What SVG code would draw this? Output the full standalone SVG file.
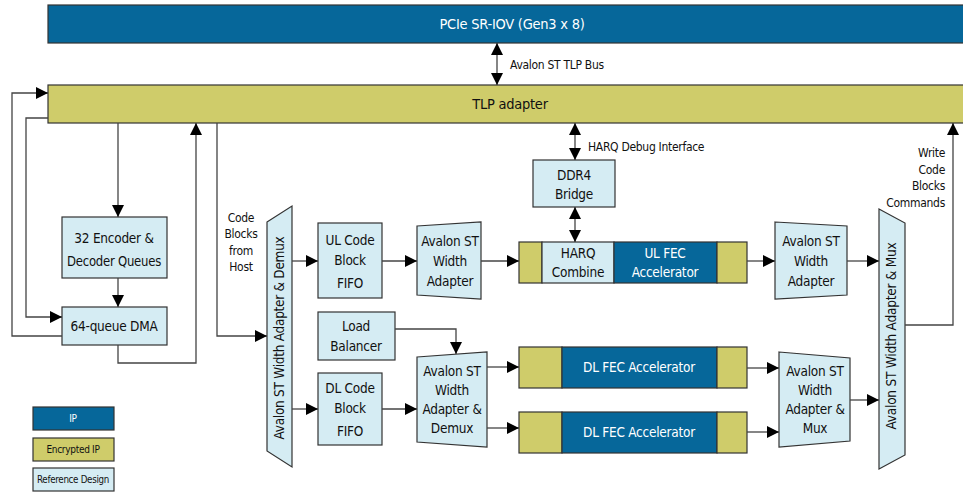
<svg xmlns="http://www.w3.org/2000/svg" width="963" height="492" viewBox="0 0 963 492">
<defs>
<marker id="ah" markerUnits="userSpaceOnUse" markerWidth="12" markerHeight="12" refX="12" refY="6" orient="auto-start-reverse">
<path d="M0,0 L12,6 L0,12 z" fill="#000"/>
</marker>
<style>
text{font-family:"Liberation Sans Narrow","DejaVu Sans Condensed","Liberation Sans",sans-serif;fill:#111;text-anchor:middle}
.t{font-size:13.5px;letter-spacing:-0.25px}
.s{font-size:12px;letter-spacing:-0.3px}
.l{font-size:10px;letter-spacing:-0.3px}
.w{fill:#fff}
.ip{fill:#06679a;stroke:#333;stroke-width:1.2}
.enc{fill:#cfcc6a;stroke:#333;stroke-width:1.2}
.ref{fill:#d5ecf3;stroke:#333;stroke-width:1.2}
.c{fill:none;stroke:#444;stroke-width:1.3}
.a{marker-end:url(#ah)}
.d{marker-start:url(#ah);marker-end:url(#ah)}
</style>
</defs>
<rect width="963" height="492" fill="#fff"/>

<g id="pcie">
<rect class="ip" x="48" y="5" width="920" height="38"/>
<text class="t w" x="512" y="29" style="font-size:14.5px">PCIe SR-IOV (Gen3 x 8)</text>
</g>
<g id="tlp">
<rect class="enc" x="48" y="85" width="920" height="38"/>
<text class="t" x="510" y="109" style="font-size:14.5px">TLP adapter</text>
</g>
<g id="queues">
<rect class="ref" x="62" y="217" width="105" height="61"/>
<text class="t" x="114" y="243">32 Encoder &amp;</text>
<text class="t" x="114" y="266" textLength="94" lengthAdjust="spacingAndGlyphs">Decoder Queues</text>
</g>
<g id="dma">
<rect class="ref" x="62" y="307" width="105" height="38"/>
<text class="t" x="114" y="331">64-queue DMA</text>
</g>
<g id="demux">
<polygon class="ref" points="267,222 292,206 292,467 267,451"/>
<text class="t" transform="translate(284,338) rotate(-90)" textLength="203" lengthAdjust="spacingAndGlyphs">Avalon ST Width Adapter &amp; Demux</text>
</g>
<g id="ulfifo">
<rect class="ref" x="318" y="223" width="64" height="75"/>
<text class="t" x="350" y="245">UL Code</text>
<text class="t" x="350" y="265">Block</text>
<text class="t" x="350" y="288">FIFO</text>
</g>
<g id="uladapter">
<polygon class="ref" points="417,226 481,222 481,299 417,295"/>
<text class="t" x="450" y="246">Avalon ST</text>
<text class="t" x="450" y="266">Width</text>
<text class="t" x="450" y="286">Adapter</text>
</g>
<g id="ddr4">
<rect class="ref" x="533" y="160" width="82" height="47"/>
<text class="t" x="574" y="180">DDR4</text>
<text class="t" x="574" y="199">Bridge</text>
</g>
<g id="ulfec">
<rect class="enc" x="519" y="242" width="23" height="41"/>
<rect class="ref" x="542" y="242" width="72" height="41"/>
<rect class="ip" x="614" y="242" width="103" height="41"/>
<rect class="enc" x="717" y="242" width="30" height="41"/>
<text class="t" x="578" y="258">HARQ</text>
<text class="t" x="578" y="277">Combine</text>
<text class="t w" x="665" y="258">UL FEC</text>
<text class="t w" x="665" y="277">Accelerator</text>
</g>
<g id="uladapter2">
<polygon class="ref" points="775,222 847,226 847,295 775,299"/>
<text class="t" x="811" y="246">Avalon ST</text>
<text class="t" x="811" y="266">Width</text>
<text class="t" x="811" y="286">Adapter</text>
</g>
<g id="mux">
<polygon class="ref" points="879,209 905,223 905,455 879,469"/>
<text class="t" transform="translate(896,336) rotate(-90)" textLength="187" lengthAdjust="spacingAndGlyphs">Avalon ST Width Adapter &amp; Mux</text>
</g>
<g id="lb">
<rect class="ref" x="318" y="312" width="77" height="48"/>
<text class="t" x="356" y="331">Load</text>
<text class="t" x="356" y="351">Balancer</text>
</g>
<g id="dlfifo">
<rect class="ref" x="318" y="373" width="64" height="72"/>
<text class="t" x="350" y="393">DL Code</text>
<text class="t" x="350" y="413">Block</text>
<text class="t" x="350" y="436">FIFO</text>
</g>
<g id="dladapter">
<polygon class="ref" points="417,357 487,352 487,447 417,442"/>
<text class="t" x="452" y="376">Avalon ST</text>
<text class="t" x="452" y="395">Width</text>
<text class="t" x="452" y="414">Adapter &amp;</text>
<text class="t" x="452" y="433">Demux</text>
</g>
<g id="dlfec1">
<rect class="enc" x="519" y="347" width="43" height="41"/>
<rect class="ip" x="562" y="347" width="155" height="41"/>
<rect class="enc" x="717" y="347" width="30" height="41"/>
<text class="t w" x="639" y="372">DL FEC Accelerator</text>
</g>
<g id="dlfec2">
<rect class="enc" x="519" y="412" width="43" height="41"/>
<rect class="ip" x="562" y="412" width="155" height="41"/>
<rect class="enc" x="717" y="412" width="30" height="41"/>
<text class="t w" x="639" y="437">DL FEC Accelerator</text>
</g>
<g id="dladapter2">
<polygon class="ref" points="779,352 850,358 850,441 779,447"/>
<text class="t" x="815" y="376">Avalon ST</text>
<text class="t" x="815" y="395">Width</text>
<text class="t" x="815" y="414">Adapter &amp;</text>
<text class="t" x="815" y="433">Mux</text>
</g>

<g id="legend">
<rect class="ip" x="33" y="407" width="81" height="23"/>
<text class="l w" x="73" y="422">IP</text>
<rect class="enc" x="33" y="438" width="81" height="23"/>
<text class="l" x="73" y="453">Encrypted IP</text>
<rect class="ref" x="33" y="468" width="81" height="23"/>
<text class="l" x="73" y="483" textLength="72" lengthAdjust="spacingAndGlyphs">Reference Design</text>
</g>

<g id="connectors">
<path class="c d" d="M497,43 V85"/>
<path class="c a" d="M118,123 V217"/>
<path class="c a" d="M118,278 V307"/>
<path class="c a" d="M48,118 H26 V317 H62"/>
<path class="c a" d="M62,336 H12 V93 H48"/>
<path class="c a" d="M118,345 V363 H196 V123"/>
<path class="c a" d="M217,123 V336 H267"/>
<path class="c d" d="M575,123 V160"/>
<path class="c d" d="M575,207 V242"/>
<path class="c a" d="M292,261 H318"/>
<path class="c a" d="M382,261 H417"/>
<path class="c a" d="M481,261 H519"/>
<path class="c a" d="M747,261 H775"/>
<path class="c a" d="M847,261 H879"/>
<path class="c a" d="M905,325 H953 V123"/>
<path class="c a" d="M292,409 H318"/>
<path class="c a" d="M382,409 H417"/>
<path class="c a" d="M395,329 H456 V354"/>
<path class="c a" d="M487,367 H519"/>
<path class="c a" d="M487,428 H519"/>
<path class="c a" d="M747,368 H779"/>
<path class="c a" d="M747,432 H779"/>
<path class="c a" d="M850,400 H879"/>
</g>

<g id="labels">
<text class="s" x="510" y="69" style="text-anchor:start">Avalon ST TLP Bus</text>
<text class="s" x="588" y="151" style="text-anchor:start">HARQ Debug Interface</text>
<text class="s" x="241" y="222">Code</text>
<text class="s" x="241" y="238">Blocks</text>
<text class="s" x="241" y="255">from</text>
<text class="s" x="241" y="271">Host</text>
<text class="s" x="945" y="157" style="text-anchor:end">Write</text>
<text class="s" x="945" y="174" style="text-anchor:end">Code</text>
<text class="s" x="945" y="190" style="text-anchor:end">Blocks</text>
<text class="s" x="945" y="207" style="text-anchor:end">Commands</text>
</g>
</svg>
